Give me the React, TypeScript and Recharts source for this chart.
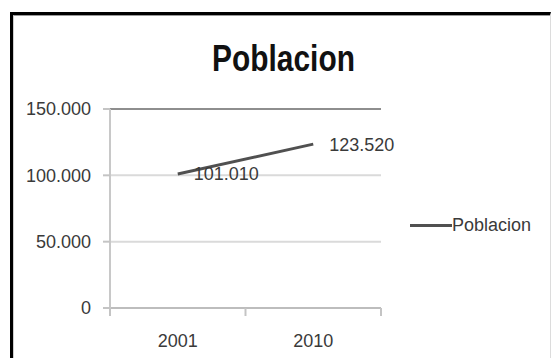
import { LineChart, Line, XAxis, YAxis, CartesianGrid, ReferenceLine, Legend, LabelList } from 'recharts'

const years = ['2001', '2010']
const poblacion = [101010, 123520]
const yTicks = [0, 50000, 100000, 150000]

const FONT = '"Liberation Sans", Arial, sans-serif'
const TEXT = '#3a3a3a'
const LINE = '#505050'

const W = 552
const H = 358
const MARGIN = { top: 109, right: 171, bottom: 10, left: 0 }
const Y_AXIS_W = 110
const X_AXIS_H = 40
const PLOT_W = W - MARGIN.left - MARGIN.right - Y_AXIS_W

const data = years.map((year, i) => ({ year, poblacion: poblacion[i] }))

// miles con punto: 150000 -> 150.000
const fmt = (v: number | string) => String(v).replace(/\B(?=(\d{3})+(?!\d))/g, '.')

// etiqueta de categoría + marcas entre categorías (estilo Excel)
function YearTick(props: any) {
  const { x, y, payload, index } = props
  const half = PLOT_W / years.length / 2
  return (
    <g>
      <line x1={x - half} y1={y} x2={x - half} y2={y + 8} stroke="#c4c4c4" strokeWidth={2} />
      {index === years.length - 1 && (
        <line x1={x + half} y1={y} x2={x + half} y2={y + 8} stroke="#c4c4c4" strokeWidth={2} />
      )}
      <text x={x} y={y + 39} textAnchor="middle" fill={TEXT} fontSize={18} fontFamily={FONT}>
        {payload.value}
      </text>
    </g>
  )
}

function LegendContent(props: any) {
  const item = props.payload?.[0]
  return (
    <div style={{ display: 'flex', alignItems: 'center', height: 24 }}>
      <div style={{ width: 42, height: 3, background: item?.color ?? LINE }} />
      <span style={{ fontFamily: FONT, fontSize: 18, color: TEXT, lineHeight: '24px' }}>{item?.value}</span>
    </div>
  )
}

export default function App() {
  return (
    <div style={{ position: 'absolute', left: 0, top: 0, width: W, height: H, background: '#fff', overflow: 'hidden' }}>
      <div
        style={{
          position: 'absolute',
          left: 10,
          top: 12,
          width: 541,
          height: 400,
          boxSizing: 'border-box',
          borderTop: '3px solid #000',
          borderLeft: '3px solid #000',
          borderRight: '1px solid #dcdcdc',
        }}
      >
        <div style={{ position: 'absolute', inset: 0, borderTop: '1px solid #9a9a9a', borderLeft: '1px solid #cfcfcf' }} />
      </div>
      {/* título condensado */}
      <div
        style={{
          position: 'absolute',
          left: 0,
          top: 41,
          width: 567,
          textAlign: 'center',
          fontFamily: FONT,
          fontWeight: 700,
          fontSize: 36,
          lineHeight: '36px',
          color: '#111',
          transform: 'scaleX(0.83)',
          transformOrigin: '283.5px 0',
        }}
      >
        Poblacion
      </div>
      <div style={{ position: 'absolute', left: 0, top: 0 }}>
        <LineChart width={W} height={H} data={data} margin={MARGIN}>
          <CartesianGrid horizontal vertical={false} stroke="#dadada" strokeWidth={2} />
          <ReferenceLine y={150000} stroke="#8e8e8e" strokeWidth={2} />
          <XAxis
            dataKey="year"
            scale="band"
            height={X_AXIS_H}
            axisLine={{ stroke: '#bdbdbd', strokeWidth: 2 }}
            tickLine={false}
            tickSize={0}
            tickMargin={0}
            tick={<YearTick />}
            interval={0}
          />
          <YAxis
            width={Y_AXIS_W}
            domain={[0, 150000]}
            ticks={yTicks}
            tickFormatter={fmt}
            axisLine={{ stroke: '#c8c8c8', strokeWidth: 2 }}
            tickLine={{ stroke: '#c4c4c4', strokeWidth: 2 }}
            tickSize={7}
            tickMargin={12}
            tick={{ fill: TEXT, fontSize: 18, fontFamily: FONT }}
          />
          <Line
            type="linear"
            dataKey="poblacion"
            name="Poblacion"
            stroke={LINE}
            strokeWidth={3}
            dot={false}
            activeDot={false}
            isAnimationActive={false}
          >
            <LabelList
              dataKey="poblacion"
              position="right"
              offset={16}
              formatter={fmt}
              fill={TEXT}
              fontSize={18}
              fontFamily={FONT}
            />
          </Line>
          <Legend
            layout="vertical"
            align="center"
            verticalAlign="middle"
            wrapperStyle={{ left: 410, top: 213, width: 140, height: 24 }}
            content={<LegendContent />}
          />
        </LineChart>
      </div>
    </div>
  )
}
